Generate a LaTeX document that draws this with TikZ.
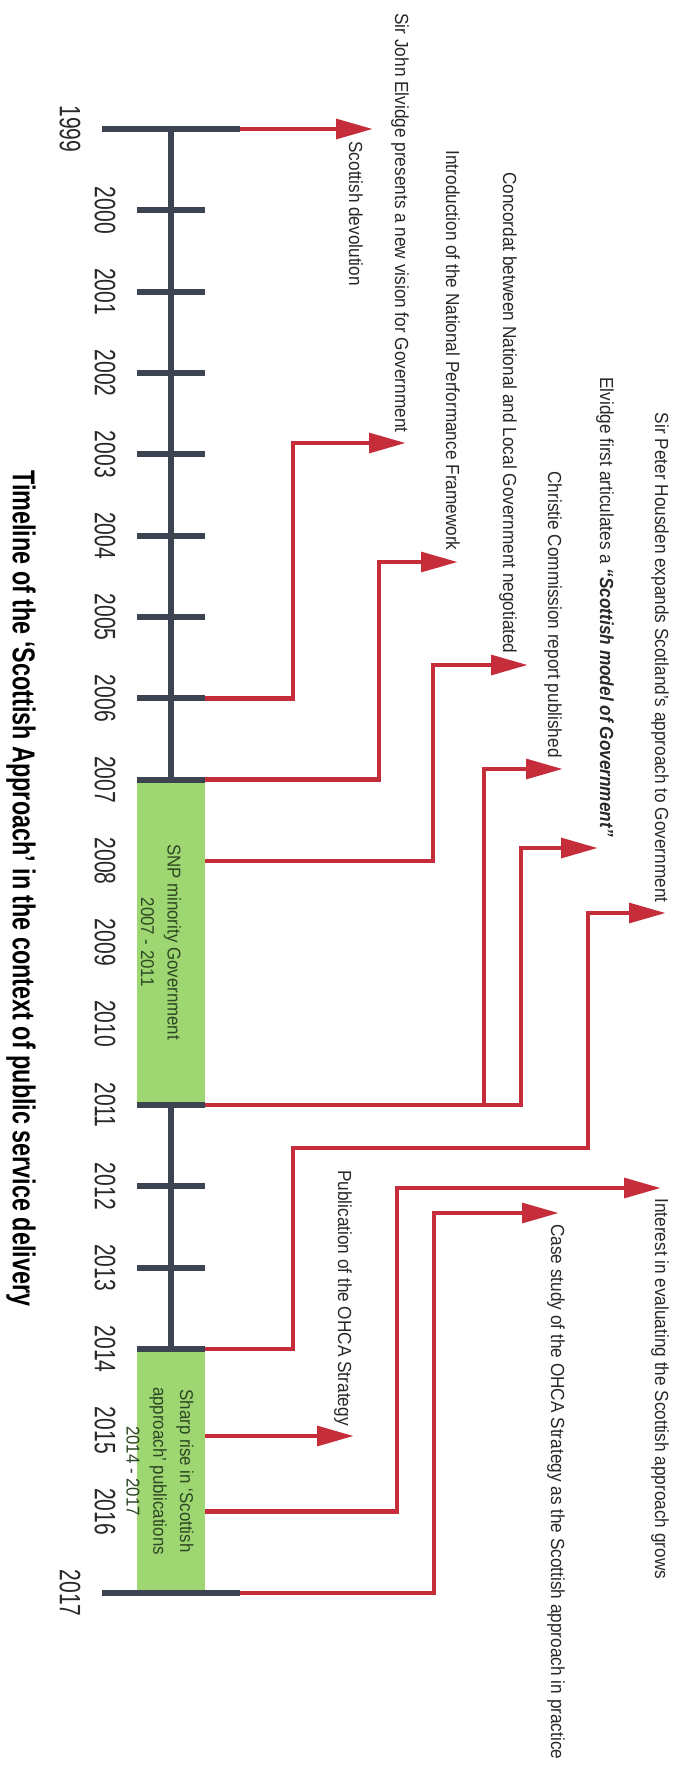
\documentclass[tikz,border=0pt]{standalone}
\usepackage{fontspec}
\setmainfont{Liberation Sans}
\usetikzlibrary{arrows.meta}

\definecolor{axisgray}{RGB}{59,68,80}
\definecolor{crimson}{RGB}{197,45,58}
\definecolor{boxgreen}{RGB}{158,214,114}
\definecolor{labelgray}{RGB}{40,40,40}
\definecolor{boxtext}{RGB}{45,70,35}

\tikzset{
  axis/.style={draw=axisgray, line width=3.4pt},
  conn/.style={draw=crimson, line width=2.8pt, -{Triangle[length=21pt,width=11pt]}},
  period/.style={fill=boxgreen},
  yearlbl/.style={rotate=-90, yscale=1.4, transform shape, inner sep=0pt,
    font=\fontsize{12}{14}\selectfont, text=labelgray},
  event/.style={rotate=-90, yscale=1.1, transform shape, inner sep=0pt,
    font=\fontsize{9.8}{12}\selectfont, text=labelgray},
  periodtxt/.style={rotate=-90, yscale=1.1, transform shape, inner sep=0pt, align=center,
    font=\fontsize{9.6}{13.8}\selectfont, text=boxtext},
  heading/.style={rotate=-90, yscale=1.35, transform shape, inner sep=0pt,
    font=\bfseries\fontsize{13.3}{16}\selectfont, text=black}
}

\begin{document}
\begin{tikzpicture}[x=0.02cm, y=-0.02cm]
  \useasboundingbox (0,0) rectangle (681,1769);

  % time axis and ticks
  \draw[axis] (171,129) -- (171,1593);
  \foreach \y in {2000,...,2006,2012,2013}
    \draw[axis] (137,{129+81.333*(\y-1999)}) -- (205,{129+81.333*(\y-1999)});

  % periods
  \fill[period] (137,779.7) rectangle (205,1105);
  \fill[period] (137,1349) rectangle (205,1593);
  \foreach \y in {2007,2011,2014}
    \draw[axis] (137,{129+81.333*(\y-1999)}) -- (205,{129+81.333*(\y-1999)});
  \draw[axis] (102,129) -- (240,129);
  \draw[axis] (102,1593) -- (240,1593);

  \node[periodtxt] (snp) at (161,942) {SNP minority Government\\2007 - 2011};
  \node[periodtxt] (rise) at (160,1471) {Sharp rise in `Scottish\\approach' publications\\2014 - 2017};

  % years
  \node[yearlbl] (y1999) at (70,129) {1999};
  \foreach \y in {2000,...,2016}
    \node[yearlbl] (y\y) at (105,{129+81.333*(\y-1999)}) {\y};
  \node[yearlbl] (y2017) at (70,1593) {2017};

  % start points on the axis
  \coordinate (s1999) at (240,129);
  \coordinate (s2006) at (205,698.3);
  \coordinate (s2007) at (205,779.7);
  \coordinate (s2008) at (205,861);
  \coordinate (s2011) at (205,1105);
  \coordinate (s2014) at (205,1349);
  \coordinate (s2015) at (205,1436);
  \coordinate (s2016) at (205,1511.7);
  \coordinate (s2017) at (240,1593);

  % arrow tips
  \coordinate (devolution) at (373,129);
  \coordinate (vision) at (406,443);
  \coordinate (npf) at (458,562);
  \coordinate (concordat) at (528,665);
  \coordinate (christie) at (563,769);
  \coordinate (model) at (598,848);
  \coordinate (housden) at (666,913);
  \coordinate (ohca) at (354,1436);
  \coordinate (interest) at (661,1188);
  \coordinate (casestudy) at (559,1213);

  % connectors
  \draw[conn] (s1999) -- (devolution);
  \draw[conn] (s2006) -- ++(88,0) |- (vision);
  \draw[conn] (s2007) -- ++(174,0) |- (npf);
  \draw[conn] (s2008) -- ++(228,0) |- (concordat);
  \draw[conn] (s2011) -- ++(279,0) |- (christie);
  \draw[conn] (s2011) -- ++(316,0) |- (model);
  \draw[conn] (s2014) -| (293,1148) -- (588,1148) |- (housden);
  \draw[conn] (s2015) -- (ohca);
  \draw[conn] (s2016) -- ++(192,0) |- (interest);
  \draw[conn] (s2017) -- ++(194,0) |- (casestudy);

  % events
  \node[event, anchor=west] (devolutionL) at (356,141) {Scottish devolution};
  \node[event, anchor=east] (visionL) at (400,433) {Sir John Elvidge presents a new vision for Government};
  \node[event, anchor=east] (npfL) at (453,551) {Introduction of the National Performance Framework};
  \node[event, anchor=east] (concordatL) at (508,654) {Concordat between National and Local Government negotiated};
  \node[event, anchor=east] (christieL) at (553,758) {Christie Commission report published};
  \node[event, anchor=east] (modelL) at (605,837) {Elvidge first articulates a \textbf{\textit{``Scottish model of Government''}}};
  \node[event, anchor=east] (housdenL) at (660,903) {Sir Peter Housden expands Scotland's approach to Government};
  \node[event, anchor=east] (ohcaL) at (343,1426) {Publication of the OHCA Strategy};
  \node[event, anchor=west] (interestL) at (660,1198) {Interest in evaluating the Scottish approach grows};
  \node[event, anchor=west] (casestudyL) at (556,1224) {Case study of the OHCA Strategy as the Scottish approach in practice};

  % title
  \node[heading, anchor=west] (title) at (21,470) {Timeline of the `Scottish Approach' in the context of public service delivery};
\end{tikzpicture}
\end{document}
